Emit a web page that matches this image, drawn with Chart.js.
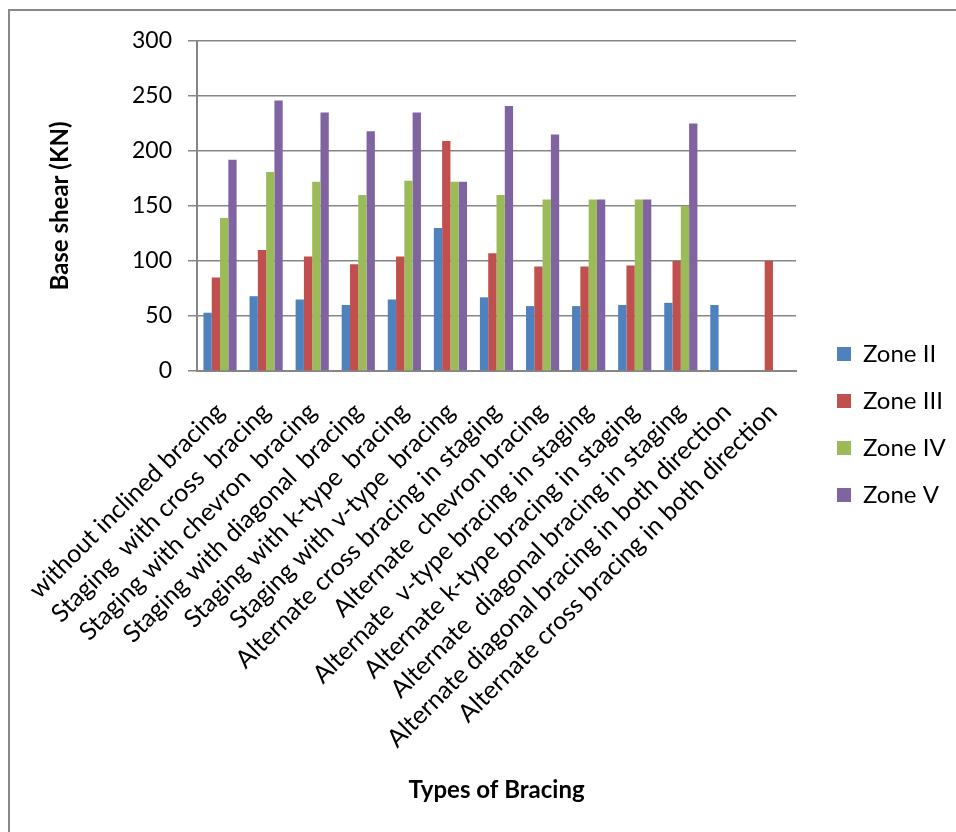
<!DOCTYPE html>
<html lang="en">
<head>
  <meta charset="UTF-8" />
  <title>Base shear by bracing type</title>
  <script src="https://cdn.jsdelivr.net/npm/chart.js@4"></script>
  <style>
    html, body { margin: 0; padding: 0; background: #fff; overflow: hidden; }
    .wrap { position: relative; width: 956px; height: 832px; }
    .frame {
      position: absolute; left: 8px; top: 9px;
      width: 1000px; height: 900px;
      border: 2px solid #888;
    }
    canvas { position: absolute; left: 0; top: 0; }
  </style>
</head>
<body>
  <div class="wrap">
    <div class="frame"></div>
    <canvas id="chart" width="956" height="832"></canvas>
  </div>
  <script>
    const categories = [
      'without inclined bracing',
      'Staging  with cross  bracing',
      'Staging with chevron  bracing',
      'Staging with diagonal  bracing',
      'Staging with k-type  bracing',
      'Staging with v-type  bracing',
      'Alternate cross bracing in staging',
      'Alternate  chevron bracing',
      'Alternate  v-type bracing in staging',
      'Alternate k-type bracing in staging',
      'Alternate  diagonal bracing in staging',
      'Alternate diagonal bracing in both direction',
      'Alternate cross bracing in both direction'
    ]
    const zone2 = [53, 68, 65, 60, 65, 130, 67, 59, 59, 60, 62, 60, null]
    const zone3 = [85, 110, 104, 97, 104, 209, 107, 95, 95, 96, 100, null, 100]
    const zone4 = [139, 181, 172, 160, 173, 172, 160, 156, 156, 156, 150, null, null]
    const zone5 = [192, 246, 235, 218, 235, 172, 241, 215, 156, 156, 225, null, null]
    const yTicks = [0, 50, 100, 150, 200, 250, 300]

    const font = 'Lato'
    const grey = '#868686'

    // legend sits a little right of / above where Chart.js would put it
    const legendWidth = 160
    const legendShift = { x: 18, y: -12 }
    const legendNudge = {
      id: 'legendNudge',
      beforeLayout(chart) {
        const lg = chart.legend
        if (lg && !lg._nudged) {
          const fit = lg.fit
          lg.fit = function () { fit.call(this); this.width = legendWidth }
          lg._nudged = true
        }
      },
      afterLayout(chart) {
        const lg = chart.legend
        lg.left += legendShift.x; lg.right += legendShift.x
        lg.top += legendShift.y; lg.bottom += legendShift.y
      }
    }

    const ds = (label, data, color) => ({
      label, data,
      backgroundColor: color,
      borderWidth: 0,
      barPercentage: 1,
      categoryPercentage: 0.72
    })

    new Chart(document.getElementById('chart'), {
      type: 'bar',
      data: {
        labels: categories,
        datasets: [
          ds('Zone II', zone2, '#4F81BD'),
          ds('Zone III', zone3, '#C0504D'),
          ds('Zone IV', zone4, '#9BBB59'),
          ds('Zone V', zone5, '#8064A2')
        ]
      },
      plugins: [legendNudge],
      options: {
        responsive: false,
        animation: false,
        layout: { padding: { top: 41, left: 0, right: 0, bottom: 0 } },
        plugins: {
          tooltip: { enabled: false },
          legend: {
            position: 'right',
            labels: {
              color: '#000',
              font: { family: font, size: 24 },
              boxWidth: 14,
              boxHeight: 14,
              padding: 23
            }
          }
        },
        scales: {
          x: {
            afterFit: s => { s.height = 461 },
            grid: { display: false, drawTicks: false },
            border: { color: grey, width: 2 },
            ticks: {
              color: '#000',
              font: { family: font, size: 25 },
              maxRotation: 45,
              minRotation: 45,
              autoSkip: false,
              padding: 26
            },
            title: {
              display: true,
              text: 'Types of Bracing',
              color: '#000',
              font: { family: font, size: 24, weight: 'bold' },
              padding: { top: 0, bottom: 27 }
            }
          },
          y: {
            min: 0,
            max: 300,
            afterFit: s => { s.width = 197 },
            afterBuildTicks: s => { s.ticks = yTicks.map(v => ({ value: v })) },
            grid: { color: grey, lineWidth: 1.5, tickLength: 9 },
            border: { color: grey, width: 2 },
            ticks: {
              color: '#000',
              font: { family: font, size: 23 },
              padding: 16
            },
            title: {
              display: true,
              text: 'Base shear (KN)',
              color: '#000',
              font: { family: font, size: 24, weight: 'bold' },
              padding: { top: 46, bottom: 0 }
            }
          }
        }
      }
    })
  </script>
</body>
</html>
